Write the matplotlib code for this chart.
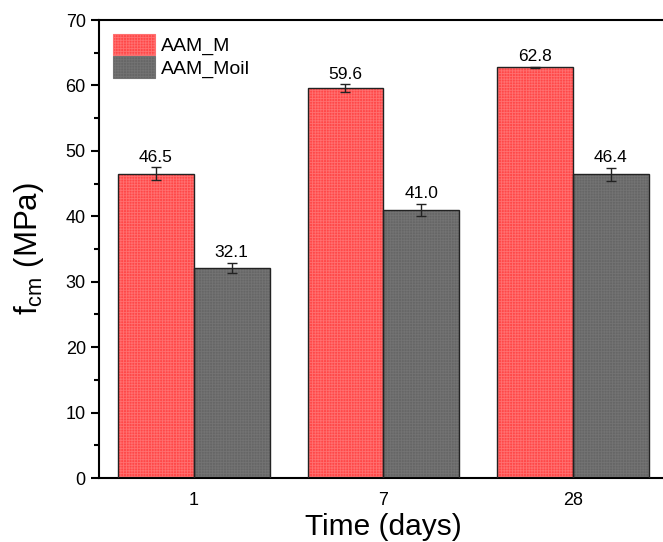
import matplotlib.pyplot as plt
import numpy as np
from matplotlib.patches import Patch

plt.rcParams['font.family'] = ['Liberation Sans', 'DejaVu Sans']
plt.rcParams['hatch.linewidth'] = 0.6

# Data
days = ['1', '7', '28']
aam_m = [46.5, 59.6, 62.8]
aam_m_err = [1.0, 0.6, 0.1]
aam_moil = [32.1, 41.0, 46.4]
aam_moil_err = [0.8, 0.9, 1.0]

red = '#ff4848'
gray = '#666666'
red_hatch = '#ff7070'
gray_hatch = '#737373'

fig = plt.figure(figsize=(6.63, 5.42), dpi=100)
ax = fig.add_axes([0.1493, 0.118, 0.858, 0.845])

x = np.arange(len(days))
w = 0.4

def hatched_bars(xpos, vals, err, face, hatch_col):
    # fill with a fine light grid, then the dark outline on top
    ax.bar(xpos, vals, w, color=face, edgecolor=hatch_col, hatch='++++++', linewidth=0, zorder=2)
    ax.bar(xpos, vals, w, color='none', edgecolor='#222222', linewidth=1.0, zorder=3)
    ax.errorbar(xpos, vals, yerr=err, fmt='none', ecolor='#222222', elinewidth=1,
                capsize=3.5, capthick=1, zorder=4)
    for xi, v, e in zip(xpos, vals, err):
        ax.text(xi, v + e + 0.4, f'{v:.1f}', ha='center', va='bottom', fontsize=12.5)

hatched_bars(x - w/2, aam_m, aam_m_err, red, red_hatch)
hatched_bars(x + w/2, aam_moil, aam_moil_err, gray, gray_hatch)

ax.set_xlim(-0.5, 2.5)
ax.set_ylim(0, 70)
ax.set_xticks(x)
ax.set_xticklabels(days)
ax.set_yticks(np.arange(0, 71, 10))
ax.set_yticks(np.arange(5, 70, 10), minor=True)
ax.tick_params(axis='y', which='major', direction='out', length=6, width=1.5, labelsize=13)
ax.tick_params(axis='y', which='minor', direction='out', length=3.5, width=1.5)
ax.tick_params(axis='x', length=0, labelsize=13, pad=10)
for s in ['left', 'bottom', 'top', 'right']:
    ax.spines[s].set_linewidth(1.5)

ax.set_xlabel('Time (days)', fontsize=21.5, labelpad=3)
ax.set_ylabel(r'f$_{\mathregular{cm}}$ (MPa)', fontsize=22.5, labelpad=14)

handles = [Patch(facecolor=red, edgecolor=red_hatch, hatch='++++++', linewidth=0.8),
           Patch(facecolor=gray, edgecolor=gray_hatch, hatch='++++++', linewidth=0.8)]
ax.legend(handles, ['AAM_M', 'AAM_Moil'], loc='upper left', frameon=False, fontsize=14,
          handlelength=2.2, handleheight=1.35, handletextpad=0.3, labelspacing=0.05,
          borderaxespad=0.3, bbox_to_anchor=(0.0, 1.0))

fig.savefig('out.png', dpi=100)
